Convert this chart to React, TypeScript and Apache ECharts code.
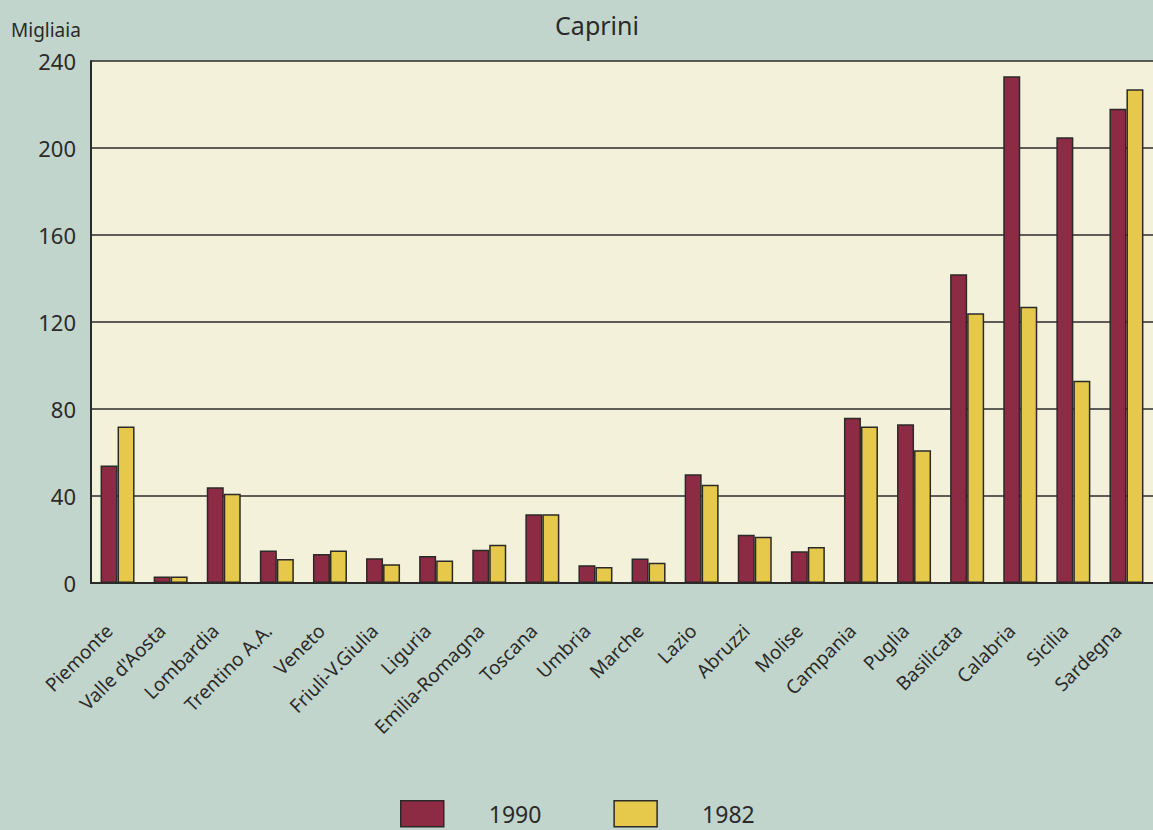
import React, { useEffect, useRef } from "react";
import * as echarts from "echarts";

const categories = [
  "Piemonte", "Valle d'Aosta", "Lombardia", "Trentino A.A.", "Veneto",
  "Friuli-V.Giulia", "Liguria", "Emilia-Romagna", "Toscana", "Umbria",
  "Marche", "Lazio", "Abruzzi", "Molise", "Campania",
  "Puglia", "Basilicata", "Calabria", "Sicilia", "Sardegna",
];
const values1990 = [54, 3, 44, 15, 13.3, 11.4, 12.4, 15.3, 31.6, 8.2, 11.3, 50, 22.2, 14.6, 76, 73, 142, 233, 205, 218];
const values1982 = [72, 3, 41, 11, 15, 8.6, 10.4, 17.6, 31.6, 7.3, 9.3, 45.2, 21.3, 16.6, 72, 61, 124, 127, 93, 227];
const yTicks = [0, 40, 80, 120, 160, 200, 240];

const FONT = "Noto Sans";
const INK = "#2b2a28";

export default function App() {
  const ref = useRef<HTMLDivElement>(null);
  useEffect(() => {
    if (!ref.current) return;
    const chart = echarts.init(ref.current, undefined, { renderer: "svg" });
    chart.setOption({
      animation: false,
      backgroundColor: "#c1d5cd",
      textStyle: { fontFamily: FONT, color: INK },
      title: {
        text: "Caprini",
        left: 597,
        top: 12,
        textAlign: "center",
        padding: 0,
        textStyle: { fontFamily: FONT, fontSize: 25, fontWeight: "normal", color: INK },
      },
      graphic: [
        {
          type: "text",
          left: 11,
          top: 20,
          style: { text: "Migliaia", fontFamily: FONT, fontSize: 19, fill: INK },
        },
      ],
      legend: {
        left: 400,
        top: 800,
        padding: 0,
        itemWidth: 43,
        itemHeight: 26,
        itemGap: 72,
        icon: "rect",
        data: ["1990", "1982"],
        textStyle: { fontFamily: FONT, fontSize: 23, lineHeight: 24, color: INK, padding: [0, 0, 0, 40] },
        itemStyle: { borderColor: INK, borderWidth: 1.5 },
      },
      grid: {
        left: 91,
        top: 61,
        width: 1066,
        height: 522,
        show: true,
        backgroundColor: "#f3f1da",
        borderWidth: 0,
      },
      xAxis: {
        type: "category",
        data: categories,
        axisLine: { lineStyle: { color: INK, width: 2 } },
        axisTick: { alignWithLabel: true, length: 16, lineStyle: { color: INK, width: 1.5 } },
        axisLabel: {
          rotate: 45,
          interval: 0,
          margin: 36,
          padding: [0, 12, 0, 0],
          fontFamily: FONT,
          fontSize: 19,
          color: INK,
        },
      },
      yAxis: {
        type: "value",
        min: yTicks[0],
        max: yTicks[yTicks.length - 1],
        interval: 40,
        axisLine: { show: true, lineStyle: { color: INK, width: 2 } },
        axisTick: { show: false },
        axisLabel: { fontFamily: FONT, fontSize: 22, color: INK, margin: 15 },
        splitLine: { lineStyle: { color: INK, width: 1.5 } },
      },
      series: [
        {
          name: "1990",
          type: "bar",
          data: values1990,
          barWidth: 17,
          barGap: "0%",
          itemStyle: { color: "#8c2b43", borderColor: INK, borderWidth: 1.5 },
        },
        {
          name: "1982",
          type: "bar",
          data: values1982,
          barWidth: 17,
          barGap: "0%",
          itemStyle: { color: "#e6c94b", borderColor: INK, borderWidth: 1.5 },
        },
      ],
    });
    return () => chart.dispose();
  }, []);
  return (
    <div
      ref={ref}
      style={{ position: "fixed", left: 0, top: 0, width: 1153, height: 830, background: "#c1d5cd" }}
    />
  );
}
